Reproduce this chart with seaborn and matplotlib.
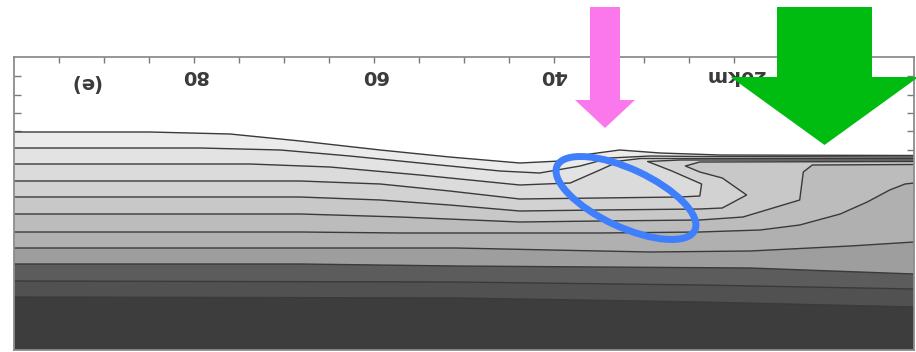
import numpy as np
import pandas as pd
import matplotlib
matplotlib.use("Agg")
import matplotlib.pyplot as plt
import seaborn as sns
from matplotlib.patches import Ellipse, FancyArrow

# ---------------- data: contour lines (distance in km, height in arbitrary units) ----------------
L1_km = [100, 84.9, 76, 68.2, 59.3, 51.6, 43.8, 39.3, 36, 32.7, 28.2, 21.6, 0]
L1_h = [218, 218, 216, 209, 200, 193, 187, 189, 196, 200, 197, 195, 194.5]

L2_km = [100, 79.3, 70.4, 62.7, 53.8, 46, 41.6, 37.1, 33.8, 29.3, 23.8, 0]
L2_h = [202, 202, 200, 194, 186, 179, 177, 184, 192, 194, 193.5, 193]

L3_km = [100, 73.8, 64.9, 54.9, 43.8, 38.2, 34.9, 32.7, 30.4, 0]
L3_h = [186, 186, 183, 175, 165, 167, 180, 189, 191.5, 191.5]

L4_km = [100, 68.2, 59.3, 51.6, 43.8, 34.9, 26, 23.8, 23.6, 26.9, 29.6, 26, 0]
L4_h = [169, 169, 166, 159, 151, 152, 153, 154, 166, 179, 188.5, 190, 190]

L5_km = [100, 68.2, 59.3, 51.6, 43.8, 34.9, 23.8, 21.3, 18.6, 21.3, 23.8, 25.4, 23.8, 0]
L5_h = [153, 153, 150, 145, 139, 140, 141, 142, 155, 172, 178, 184, 188, 188.5]

L6_km = [100, 68.2, 57.1, 43.8, 34.9, 23.8, 19, 12.7, 12.3, 11.3, 0]
L6_h = [136, 136, 133, 128, 129, 130, 133, 150, 178, 185, 185.5]

L7_km = [100, 68.2, 57.1, 43.8, 34.9, 23.8, 17.1, 12.7, 8.2, 5.2, 2.7, 1, 0]
L7_h = [118, 118, 117, 117, 117, 118, 120, 125, 136, 148, 160, 166, 167]

L8_km = [100, 68.2, 50.9, 40.4, 29.3, 18.2, 7.1, 0]
L8_h = [102, 102, 102, 100, 98, 99, 104, 108]

L9_km = [100, 68.2, 50.9, 34.9, 18.2, 0]
L9_h = [86, 86, 84, 83, 82, 76]

L10_km = [100, 50.9, 23.8, 0]
L10_h = [69, 68, 65, 61]

L11_km = [100, 50.9, 23.8, 0]
L11_h = [53, 52, 48, 43]

contour_km = [L1_km, L2_km, L3_km, L4_km, L5_km, L6_km, L7_km, L8_km, L9_km, L10_km, L11_km]
contour_h = [L1_h, L2_h, L3_h, L4_h, L5_h, L6_h, L7_h, L8_h, L9_h, L10_h, L11_h]

band_colors = ["#ebebeb", "#e3e3e3", "#dbdbdb", "#d2d2d2", "#c8c8c8", "#bcbcbc",
               "#b0b0b0", "#9e9e9e", "#5c5c5c", "#515151", "#3d3d3d"]

tick_km = [80, 60, 40, 20]
tick_text = ["80", "60", "40", "20km"]
minor_km = [95, 90, 85, 75, 70, 65, 55, 50, 45, 35, 30, 25, 15, 10, 5]
side_ticks = [17, 35, 54, 72, 90, 109, 127, 145, 164, 182, 200, 219, 237, 255, 274]
panel_label = "(e)"

# ---------------- figure ----------------
sns.set_style("white")
plt.rcParams["font.family"] = ["DejaVu Sans"]

W, H = 916, 352
fig = plt.figure(figsize=(W / 100, H / 100), dpi=100)
fig.patch.set_facecolor("white")
ax = fig.add_axes([14 / W, 2 / H, 900 / W, 293 / H])
ax.set_facecolor("white")

# filled bands (painted from top contour downward)
for km, h, c in zip(contour_km, contour_h, band_colors):
    ax.fill(list(km) + [0, 100], list(h) + [0, 0], color=c, lw=0, zorder=1)

# contour lines via seaborn
rows = []
for i, (km, h) in enumerate(zip(contour_km, contour_h)):
    for j, (x, y) in enumerate(zip(km, h)):
        rows.append({"line": i, "order": j, "km": x, "h": y})
df = pd.DataFrame(rows)
sns.lineplot(data=df, x="km", y="h", units="line", estimator=None, sort=False,
             color="#3a3a3a", linewidth=1.0, ax=ax, legend=False, zorder=3)

ax.set_xlim(100, 0)
ax.set_ylim(0, 293)
ax.set_xlabel("")
ax.set_ylabel("")

ax.set_xticks(tick_km)
ax.set_xticks(minor_km, minor=True)
ax.set_yticks(side_ticks)
ax.tick_params(axis="x", which="both", direction="in", top=True, bottom=True,
               labelbottom=False, labeltop=False, length=4, width=1, color="#7a7a7a")
ax.tick_params(axis="y", which="both", direction="in", left=True, right=True,
               labelleft=False, labelright=False, length=5, width=1, color="#7a7a7a")
for s in ax.spines.values():
    s.set_color("#8c8c8c")
    s.set_linewidth(1.3)
    s.set_zorder(5)

for km, t in zip(tick_km, tick_text):
    ax.text(km, 275, t, rotation=180, ha="center", va="center", fontsize=14,
            fontweight="bold", color="#3a3a3a", zorder=6)
ax.text(92.1, 268, panel_label, rotation=180, ha="center", va="center", fontsize=14,
        fontweight="bold", color="#3a3a3a", zorder=6)

# ---------------- annotations overlay (pixel space) ----------------
ov = fig.add_axes([0, 0, 1, 1])
ov.set_xlim(0, W)
ov.set_ylim(H, 0)
ov.axis("off")
ov.patch.set_alpha(0)

ov.add_patch(FancyArrow(605, 7, 0, 121, width=30, head_width=60, head_length=28,
                        length_includes_head=True, color="#fb78ec", lw=0))
ov.add_patch(FancyArrow(824.5, 7, 0, 138, width=95, head_width=188, head_length=68,
                        length_includes_head=True, color="#00bc10", lw=0))
ov.add_patch(Ellipse((626, 198), width=152, height=58, angle=25, fill=False,
                     ec="#3f7ffc", lw=5))

fig.savefig("out.png", dpi=100)
